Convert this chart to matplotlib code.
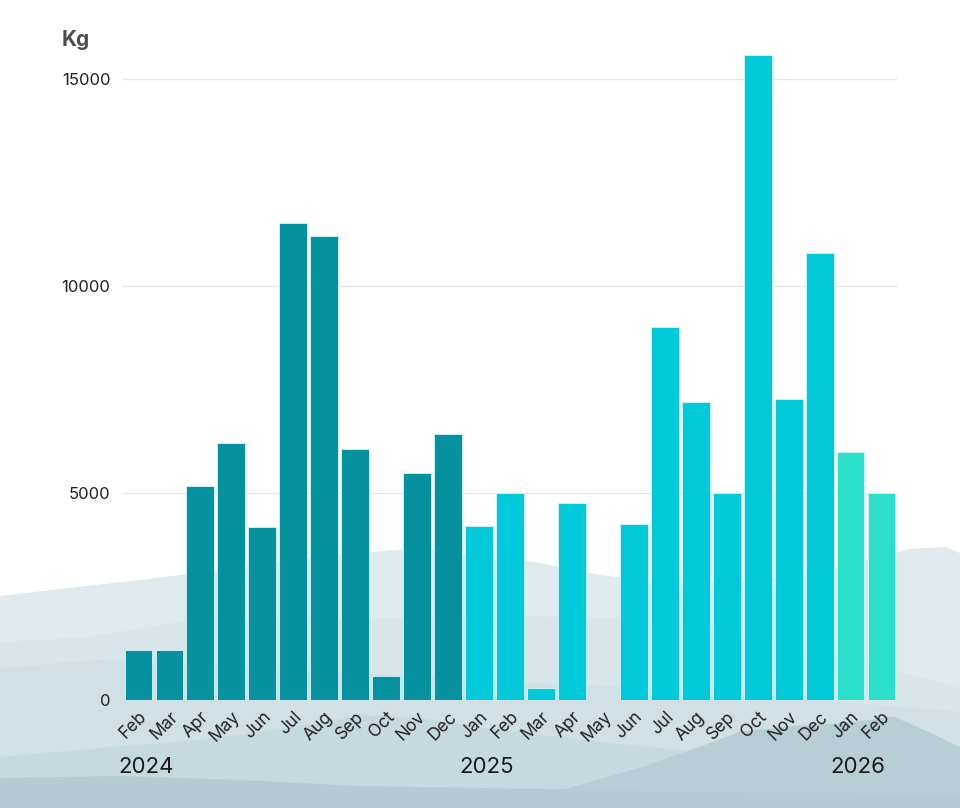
import matplotlib
matplotlib.use("Agg")
import matplotlib.pyplot as plt
import matplotlib.transforms as mtransforms
import numpy as np

plt.rcParams['font.family'] = ['Inter', 'DejaVu Sans']

# Data
months = ['Feb', 'Mar', 'Apr', 'May', 'Jun', 'Jul', 'Aug', 'Sep', 'Oct', 'Nov', 'Dec',
          'Jan', 'Feb', 'Mar', 'Apr', 'May', 'Jun', 'Jul', 'Aug', 'Sep', 'Oct', 'Nov', 'Dec',
          'Jan', 'Feb']
years = [2024] * 11 + [2025] * 12 + [2026] * 2
kg = [1200, 1200, 5170, 6200, 4180, 11520, 11210, 6060, 580, 5480, 6430,
      4200, 5000, 290, 4760, 0, 4250, 9010, 7200, 5000, 15580, 7270, 10800,
      5990, 5000]
year_labels = ['2024', '2025', '2026']
yticks = [0, 5000, 10000, 15000]

year_colors = {2024: '#05929e', 2025: '#00c9d9', 2026: '#2ae0cb'}

# Background hills (figure pixel coords, drawn back to front)
hills = [
    ('#dfeaee', [(0, 596), (60, 589), (140, 580), (220, 570), (300, 559), (360, 553), (420, 548),
                 (480, 556), (540, 563), (600, 575), (680, 584), (760, 580), (840, 568),
                 (880, 556), (910, 549), (945, 547), (960, 553)]),
    ('#d8e6ea', [(0, 642), (80, 638), (180, 622), (280, 620), (380, 619), (500, 616),
                 (620, 618), (720, 628), (820, 650), (900, 672), (960, 688)]),
    ('#d0e1e5', [(0, 668), (100, 660), (200, 664), (320, 672), (420, 676), (560, 684),
                 (700, 690), (820, 700), (960, 712)]),
    ('#c5dade', [(0, 757), (100, 748), (200, 740), (300, 726), (360, 715), (420, 718),
                 (500, 730), (600, 742), (700, 752), (800, 760), (960, 770)]),
    ('#b7ced4', [(560, 790), (640, 767), (700, 746), (740, 731), (800, 725), (850, 722),
                 (893, 716), (925, 730), (960, 747)]),
    ('#b4cbd1', [(0, 778), (120, 776), (240, 780), (360, 786), (480, 788), (600, 790),
                 (720, 792), (960, 795)]),
]

fig = plt.figure(figsize=(9.6, 8.08), dpi=100)
fig.patch.set_facecolor('white')

bg = fig.add_axes([0, 0, 1, 1], zorder=0)
bg.set_xlim(0, 960)
bg.set_ylim(808, 0)
bg.axis('off')
for color, pts in hills:
    xs = [p[0] for p in pts]
    ys = [p[1] for p in pts]
    bg.fill_between(xs, ys, 808, color=color, lw=0)

ax = fig.add_axes([123 / 960, 1 - 700 / 808, 774 / 960, 662.4 / 808], zorder=1)
ax.patch.set_alpha(0)

x = np.arange(len(kg))
colors = [year_colors[y] for y in years]
ax.bar(x, kg, width=0.9, color=colors, edgecolor='#d4f6f8', linewidth=0.6, zorder=3)

ax.set_xlim(-0.5, len(kg) - 0.5)
ax.set_ylim(0, 16000)
ax.set_yticks(yticks)
ax.set_yticklabels([str(v) for v in yticks], fontsize=12, color='#222222')
ax.yaxis.grid(True, color='#e6e6e6', lw=1, zorder=0)
ax.set_xticks(x)
ax.set_xticklabels(months, rotation=45, ha='right', rotation_mode='anchor',
                   fontsize=12.5, color='#222222')
offset = mtransforms.ScaledTranslation(12 / 100, 0, fig.dpi_scale_trans)
for lbl in ax.get_xticklabels():
    lbl.set_transform(lbl.get_transform() + offset)
ax.tick_params(axis='both', length=0)
ax.tick_params(axis='y', pad=9)
ax.tick_params(axis='x', pad=6)
for s in ax.spines.values():
    s.set_visible(False)

# Kg unit label
fig.text(62 / 960, 1 - 40 / 808, 'Kg', fontsize=15, fontweight='bold',
         color='#4d4d4d', va='center', ha='left')

# Year labels at the first bar of each year
trans = mtransforms.blended_transform_factory(ax.transData, fig.transFigure)
for yl in year_labels:
    i = years.index(int(yl))
    ax.text(i - 0.65, 1 - 767 / 808, yl, transform=trans, fontsize=16,
            color='#1a1a1a', ha='left', va='center')

fig.savefig('out.png', dpi=100)
